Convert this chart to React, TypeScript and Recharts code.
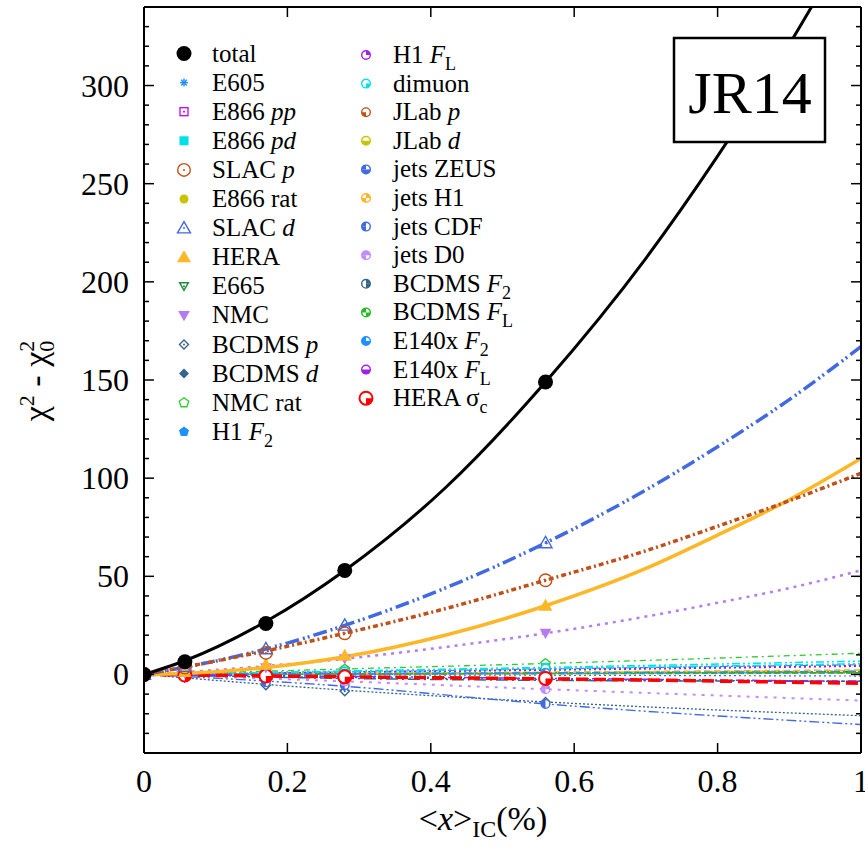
import React from "react";
import { ComposedChart, Line, Scatter, XAxis, YAxis } from "recharts";

const FONT = "Liberation Serif, Times New Roman, Times, serif";

// x positions of the fitted points and of the samples along each fit curve
const xPts = [0, 0.057, 0.17, 0.28, 0.56];
const xFitBig = [0, 0.057, 0.17, 0.28, 0.42, 0.56, 0.7, 0.8, 0.9, 1];
const xFitSmall = [0, 0.28, 0.56, 1];

const xTicks = [0, 0.2, 0.4, 0.6, 0.8, 1];
const xTickLabels = ["0", "0.2", "0.4", "0.6", "0.8", "1"];

const totalPts = [0, 6.5, 26, 53, 149];
const totalFit = [0, 7, 27, 53, 95, 149, 212, 264, 321, 384];
const slacDPts = [0, 4, 13, 25, 67];
const slacDFit = [0, 3.7, 13, 25, 44, 67, 94, 116, 140, 167];
const slacPPts = [0, 3.5, 11, 21, 48];
const slacPFit = [0, 3.8, 12, 21, 33.5, 48, 63, 75.5, 88.5, 102.5];
const heraPts = [0, 1.2, 5, 9.5, 35];
const heraFit = [0, 0.5, 3.5, 9, 20, 35, 54, 71, 89, 110];
const nmcPts = [0, 0.8, 3.5, 8, 21];
const nmcFit = [0, 1.2, 4.3, 8, 14, 21, 29.5, 36.5, 44, 53];

const e605Pts = [0, 0.2, 0.8, 1.3, 2.8];
const e605Fit = [0, 1.3, 2.8, 5];
const e866ppPts = [0, 0.2, 0.6, 1, 2.2];
const e866ppFit = [0, 1, 2.2, 4.2];
const e866pdPts = [0, 0.3, 1, 1.8, 3.6];
const e866pdFit = [0, 1.8, 3.6, 6.8];
const e866ratPts = [0, 0.1, 0.4, 0.6, 1.2];
const e866ratFit = [0, 0.6, 1.2, 2.3];
const e665Pts = [0, 0, 0.2, 0.4, 0.8];
const e665Fit = [0, 0.4, 0.8, 1.5];
const bcdmsPPts = [0, -1.5, -5.5, -8.5, -14];
const bcdmsPFit = [0, -8, -14, -21];
const bcdmsDPts = [0, -0.3, -1, -1.5, -2.5];
const bcdmsDFit = [0, -1.5, -2.5, -3.5];
const nmcRatPts = [0, 0.5, 1.5, 2.6, 5.5];
const nmcRatFit = [0, 2.8, 5.6, 10.8];
const h1F2Pts = [0, 0, 0.1, 0.2, 0.5];
const h1F2Fit = [0, 0.2, 0.5, 1];
const h1FLPts = [0, 0.2, 0.7, 1.2, 2.5];
const h1FLFit = [0, 1.2, 2.5, 4.5];
const dimuonPts = [0, 0.3, 0.9, 1.5, 3];
const dimuonFit = [0, 1.5, 3, 5.5];
const jlabPPts = [0, 0.1, 0.2, 0.3, 0.6];
const jlabPFit = [0, 0.3, 0.6, 1];
const jlabDPts = [0, 0, 0.1, 0.2, 0.3];
const jlabDFit = [0, 0.2, 0.3, 0.6];
const zeusPts = [0, 0, -0.1, -0.2, -0.4];
const zeusFit = [0, -0.2, -0.4, -0.8];
const jetsH1Pts = [0, 0.1, 0.3, 0.5, 1];
const jetsH1Fit = [0, 0.5, 1, 2];
const cdfPts = [0, -1.2, -4, -5.5, -15];
const cdfFit = [0, -6, -15, -25.5];
const d0Pts = [0, -0.5, -1.8, -3.5, -7.5];
const d0Fit = [0, -3.5, -7.5, -13.3];
const bcdmsF2Pts = [0, -0.5, -1.5, -2, -3];
const bcdmsF2Fit = [0, -2, -3, -3.5];
const bcdmsFLPts = [0, 0, 0.1, 0.2, 0.4];
const bcdmsFLFit = [0, 0.2, 0.4, 0.8];
const e140F2Pts = [0, 0, 0.2, 0.4, 0.8];
const e140F2Fit = [0, 0.4, 0.8, 1.5];
const e140FLPts = [0, -0.2, -0.6, -1, -2];
const e140FLFit = [0, -1, -2, -3.5];
const heraScPts = [0, -0.3, -0.8, -1.2, -2];
const heraScFit = [0, -1.2, -2.2, -4.5];

type Part = [string, ("i" | "sub")?];
type Series = {
  label: Part[];
  color: string;
  kind: string;
  q?: number[];
  pts: number[];
  fit: number[];
  fx: number[];
  dash?: string;
  w: number;
};

const blue = "#1E90FF";
const royal = "#4169E1";
const purple = "#A020F0";
const cyan = "#00E0EA";
const rust = "#C0501A";
const olive = "#C6C600";
const orange = "#FFB627";
const slate = "#36648B";

const series: Series[] = [
  { label: [["total"]], color: "#000", kind: "big", pts: totalPts, fit: totalFit, fx: xFitBig, w: 3 },
  { label: [["E605"]], color: blue, kind: "star", pts: e605Pts, fit: e605Fit, fx: xFitSmall, dash: "8 3 2 3", w: 1.2 },
  { label: [["E866 "], ["pp", "i"]], color: "#C000FF", kind: "sqO", pts: e866ppPts, fit: e866ppFit, fx: xFitSmall, dash: "2 3", w: 1.5 },
  { label: [["E866 "], ["pd", "i"]], color: cyan, kind: "sqF", pts: e866pdPts, fit: e866pdFit, fx: xFitSmall, dash: "8 3 2 3 2 3", w: 1.5 },
  { label: [["SLAC "], ["p", "i"]], color: rust, kind: "ciO", pts: slacPPts, fit: slacPFit, fx: xFitBig, dash: "5 3 2 3", w: 3.5 },
  { label: [["E866 rat"]], color: olive, kind: "ciF", pts: e866ratPts, fit: e866ratFit, fx: xFitSmall, dash: "6 4", w: 1.5 },
  { label: [["SLAC "], ["d", "i"]], color: royal, kind: "trO", pts: slacDPts, fit: slacDFit, fx: xFitBig, dash: "14 4 2 3 2 4", w: 3.5 },
  { label: [["HERA"]], color: orange, kind: "trF", pts: heraPts, fit: heraFit, fx: xFitBig, w: 3.5 },
  { label: [["E665"]], color: "#228B3C", kind: "tdO", pts: e665Pts, fit: e665Fit, fx: xFitSmall, dash: "10 4", w: 1.2 },
  { label: [["NMC"]], color: "#B47CF2", kind: "tdF", pts: nmcPts, fit: nmcFit, fx: xFitBig, dash: "3 5", w: 2.5 },
  { label: [["BCDMS "], ["p", "i"]], color: slate, kind: "diO", pts: bcdmsPPts, fit: bcdmsPFit, fx: xFitSmall, dash: "2 2", w: 1.3 },
  { label: [["BCDMS "], ["d", "i"]], color: slate, kind: "diF", pts: bcdmsDPts, fit: bcdmsDFit, fx: xFitSmall, dash: "10 3 2 3", w: 1.3 },
  { label: [["NMC rat"]], color: "#32C832", kind: "peO", pts: nmcRatPts, fit: nmcRatFit, fx: xFitSmall, dash: "6 4 2 4", w: 1.3 },
  { label: [["H1 "], ["F", "i"], ["2", "sub"]], color: blue, kind: "peF", pts: h1F2Pts, fit: h1F2Fit, fx: xFitSmall, w: 1.2 },
  { label: [["H1 "], ["F", "i"], ["L", "sub"]], color: purple, kind: "pie", q: [0], pts: h1FLPts, fit: h1FLFit, fx: xFitSmall, dash: "2 3", w: 1.5 },
  { label: [["dimuon"]], color: cyan, kind: "pie", q: [1], pts: dimuonPts, fit: dimuonFit, fx: xFitSmall, dash: "8 3 2 3 2 3", w: 1.5 },
  { label: [["JLab "], ["p", "i"]], color: rust, kind: "pie", q: [2], pts: jlabPPts, fit: jlabPFit, fx: xFitSmall, dash: "6 3", w: 1.2 },
  { label: [["JLab "], ["d", "i"]], color: olive, kind: "pie", q: [1, 2], pts: jlabDPts, fit: jlabDFit, fx: xFitSmall, dash: "8 3 2 3", w: 1.2 },
  { label: [["jets ZEUS"]], color: royal, kind: "pie", q: [1, 2, 3], pts: zeusPts, fit: zeusFit, fx: xFitSmall, dash: "2 3", w: 1.2 },
  { label: [["jets H1"]], color: orange, kind: "pie", q: [0, 2], pts: jetsH1Pts, fit: jetsH1Fit, fx: xFitSmall, dash: "7 4", w: 1.5 },
  { label: [["jets CDF"]], color: royal, kind: "pie", q: [2, 3], pts: cdfPts, fit: cdfFit, fx: xFitSmall, dash: "10 3 2 3 2 3", w: 1.4 },
  { label: [["jets D0"]], color: "#C08CFF", kind: "pie", q: [0, 2, 3], pts: d0Pts, fit: d0Fit, fx: xFitSmall, dash: "3 6", w: 2 },
  { label: [["BCDMS "], ["F", "i"], ["2", "sub"]], color: slate, kind: "pie", q: [0, 1], pts: bcdmsF2Pts, fit: bcdmsF2Fit, fx: xFitSmall, dash: "12 4 2 4", w: 1.5 },
  { label: [["BCDMS "], ["F", "i"], ["L", "sub"]], color: "#22BB22", kind: "pie", q: [1, 3], pts: bcdmsFLPts, fit: bcdmsFLFit, fx: xFitSmall, dash: "6 3", w: 1.5 },
  { label: [["E140x "], ["F", "i"], ["2", "sub"]], color: blue, kind: "pie", q: [1, 2, 3], pts: e140F2Pts, fit: e140F2Fit, fx: xFitSmall, dash: "8 3 2 3", w: 1.5 },
  { label: [["E140x "], ["F", "i"], ["L", "sub"]], color: purple, kind: "pie", q: [1, 2], pts: e140FLPts, fit: e140FLFit, fx: xFitSmall, dash: "8 3 2 3", w: 1.5 },
  { label: [["HERA σ"], ["c", "sub"]], color: "#FF0000", kind: "pieBig", q: [1], pts: heraScPts, fit: heraScFit, fx: xFitSmall, dash: "12 6", w: 3.5 },
];

const isBig = (s: Series) => s.fx === xFitBig;

const yTicks: number[] = [];
for (let v = -30; v <= 330; v += 10) yTicks.push(v);

function poly(cx: number, cy: number, r: number, n: number, start: number) {
  const p: string[] = [];
  for (let i = 0; i < n; i++) {
    const a = ((start + (360 / n) * i) * Math.PI) / 180;
    p.push(`${cx + r * Math.cos(a)},${cy + r * Math.sin(a)}`);
  }
  return p.join(" ");
}

function wedge(cx: number, cy: number, r: number, k: number) {
  const a0 = ((-90 + 90 * k) * Math.PI) / 180;
  const a1 = a0 + Math.PI / 2;
  return `M${cx},${cy} L${cx + r * Math.cos(a0)},${cy + r * Math.sin(a0)} A${r},${r} 0 0 1 ${cx + r * Math.cos(a1)},${cy + r * Math.sin(a1)} Z`;
}

function Marker({ cx, cy, s }: { cx: number; cy: number; s: Series }) {
  const c = s.color;
  const dot = <circle cx={cx} cy={cy} r={1} fill={c} />;
  switch (s.kind) {
    case "big":
      return <circle cx={cx} cy={cy} r={7.5} fill={c} />;
    case "star": {
      const r = 4;
      const d = r * 0.7;
      return (
        <g stroke={c} strokeWidth={1.4}>
          <line x1={cx - r} y1={cy} x2={cx + r} y2={cy} />
          <line x1={cx} y1={cy - r} x2={cx} y2={cy + r} />
          <line x1={cx - d} y1={cy - d} x2={cx + d} y2={cy + d} />
          <line x1={cx - d} y1={cy + d} x2={cx + d} y2={cy - d} />
        </g>
      );
    }
    case "sqO":
      return (
        <g>
          <rect x={cx - 4} y={cy - 4} width={8} height={8} fill="none" stroke={c} strokeWidth={1.3} />
          {dot}
        </g>
      );
    case "sqF":
      return <rect x={cx - 4.5} y={cy - 4.5} width={9} height={9} fill={c} />;
    case "ciO":
      return (
        <g>
          <circle cx={cx} cy={cy} r={6.3} fill="none" stroke={c} strokeWidth={1.4} />
          {dot}
        </g>
      );
    case "ciF":
      return <circle cx={cx} cy={cy} r={4.5} fill={c} />;
    case "trO":
      return (
        <g>
          <polygon points={poly(cx, cy + 1, 7.5, 3, -90)} fill="none" stroke={c} strokeWidth={1.4} />
          {dot}
        </g>
      );
    case "trF":
      return <polygon points={poly(cx, cy + 1, 8, 3, -90)} fill={c} />;
    case "tdO":
      return (
        <g>
          <polygon points={poly(cx, cy - 1, 5, 3, 90)} fill="none" stroke={c} strokeWidth={1.5} />
          {dot}
        </g>
      );
    case "tdF":
      return <polygon points={poly(cx, cy - 1, 6.8, 3, 90)} fill={c} />;
    case "diO":
      return (
        <g>
          <polygon points={poly(cx, cy, 4.5, 4, 0)} fill="none" stroke={c} strokeWidth={1.4} />
          {dot}
        </g>
      );
    case "diF":
      return <polygon points={poly(cx, cy, 5, 4, 0)} fill={c} />;
    case "peO":
      return <polygon points={poly(cx, cy, 5, 5, -90)} fill="none" stroke={c} strokeWidth={1.3} />;
    case "peF":
      return <polygon points={poly(cx, cy, 5.3, 5, -90)} fill={c} />;
    default: {
      const big = s.kind === "pieBig";
      const r = big ? 6.5 : 4.3;
      return (
        <g>
          <circle cx={cx} cy={cy} r={r} fill="#fff" stroke={c} strokeWidth={big ? 2 : 1.4} />
          {(s.q || []).map((k) => (
            <path key={k} d={wedge(cx, cy, r, k)} fill={c} />
          ))}
        </g>
      );
    }
  }
}

function LabelText({ x, y, parts }: { x: number; y: number; parts: Part[] }) {
  return (
    <text x={x} y={y} fontFamily={FONT} fontSize={25} fill="#000">
      {parts.map(([t, st], i) =>
        st === "sub" ? (
          <tspan key={i} dy={7} fontSize={18}>
            {t}
          </tspan>
        ) : (
          <tspan key={i} fontStyle={st === "i" ? "italic" : "normal"}>
            {t}
          </tspan>
        )
      )}
    </text>
  );
}

function YTick(props: any) {
  const { x, y, payload, side } = props;
  const v = payload.value;
  const major = v % 50 === 0;
  const len = major ? 10 : 5;
  const dir = side === "right" ? -1 : 1;
  return (
    <g>
      <line x1={x} y1={y} x2={x + dir * len} y2={y} stroke="#000" strokeWidth={1.5} />
      {major && side !== "right" ? (
        <text x={x - 15} y={y + 11} textAnchor="end" fontFamily={FONT} fontSize={32} fill="#000">
          {v}
        </text>
      ) : null}
    </g>
  );
}

function XTick(props: any) {
  const { x, y, payload, index, side } = props;
  const dir = side === "top" ? 1 : -1;
  return (
    <g>
      <line x1={x} y1={y} x2={x} y2={y + dir * 10} stroke="#000" strokeWidth={1.5} />
      {side !== "top" ? (
        <text x={x} y={y + 39} textAnchor="middle" fontFamily={FONT} fontSize={32} fill="#000">
          {xTickLabels[index] ?? payload.value}
        </text>
      ) : null}
    </g>
  );
}

export default function App() {
  const frame = { stroke: "#000", strokeWidth: 2 };
  const drawOrder = [...series.filter((s) => !isBig(s)), ...series.filter(isBig).reverse()];
  return (
    <div style={{ position: "absolute", left: 0, top: 0, width: 865, height: 847, background: "#fff" }}>
      <ComposedChart width={865} height={847} margin={{ top: 5, right: 2, bottom: 54, left: 84 }}>
        <XAxis
          type="number"
          dataKey="x"
          domain={[0, 1]}
          ticks={xTicks}
          interval={0}
          allowDataOverflow
          height={40}
          axisLine={frame}
          tickLine={false}
          tickSize={0}
          tickMargin={0}
          tick={(p: any) => <XTick {...p} side="bottom" />}
        />
        <XAxis
          xAxisId="top"
          orientation="top"
          type="number"
          dataKey="x"
          domain={[0, 1]}
          ticks={xTicks}
          interval={0}
          allowDataOverflow
          height={2}
          axisLine={frame}
          tickLine={false}
          tickSize={0}
          tickMargin={0}
          tick={(p: any) => <XTick {...p} side="top" />}
        />
        <YAxis
          type="number"
          dataKey="y"
          domain={[-40, 340]}
          ticks={yTicks}
          interval={0}
          allowDataOverflow
          width={60}
          axisLine={frame}
          tickLine={false}
          tickSize={0}
          tickMargin={0}
          tick={(p: any) => <YTick {...p} side="left" />}
        />
        <YAxis
          yAxisId="right"
          orientation="right"
          type="number"
          dataKey="y"
          domain={[-40, 340]}
          ticks={yTicks}
          interval={0}
          allowDataOverflow
          width={2}
          axisLine={frame}
          tickLine={false}
          tickSize={0}
          tickMargin={0}
          tick={(p: any) => <YTick {...p} side="right" />}
        />
        {drawOrder.map((s, i) => (
          <Line
            key={"l" + i}
            data={s.fx.map((x, j) => ({ x, y: s.fit[j] }))}
            dataKey="y"
            type="monotone"
            stroke={s.color}
            strokeWidth={s.w}
            strokeDasharray={s.dash}
            dot={false}
            activeDot={false}
            isAnimationActive={false}
          />
        ))}
        {drawOrder.map((s, i) => (
          <Scatter
            key={"s" + i}
            data={xPts.map((x, j) => ({ x, y: s.pts[j] }))}
            dataKey="y"
            isAnimationActive={false}
            shape={(p: any) => <Marker cx={p.cx} cy={p.cy} s={s} />}
          />
        ))}
      </ComposedChart>
      <svg
        width={865}
        height={847}
        style={{ position: "absolute", left: 0, top: 0, pointerEvents: "none" }}
      >
        {series.map((s, i) => {
          const col2 = i >= 14;
          const row = col2 ? i - 14 : i;
          const my = col2 ? 55 + row * 28.6 : 53.5 + row * 29.1;
          const mx = col2 ? 366 : 184;
          const tx = col2 ? 393 : 212;
          return (
            <g key={"lg" + i}>
              <Marker cx={mx} cy={my} s={s} />
              <LabelText x={tx} y={my + 8} parts={s.label} />
            </g>
          );
        })}
        <rect x={674} y={38} width={151} height={104} fill="#fff" stroke="#000" strokeWidth={2.5} />
        <text x={750} y={113} textAnchor="middle" fontFamily={FONT} fontSize={60} fill="#000">
          JR14
        </text>
        <text x={483} y={830} textAnchor="middle" fontFamily={FONT} fontSize={34} fill="#000">
          <tspan>&lt;</tspan>
          <tspan fontStyle="italic">x</tspan>
          <tspan>&gt;</tspan>
          <tspan fontSize={24} dy={7}>
            IC
          </tspan>
          <tspan dy={-7}>(%)</tspan>
        </text>
        <g transform="translate(47,381) rotate(-90)">
          <text textAnchor="middle" fontFamily={FONT} fontSize={34} fill="#000">
            χ
            <tspan fontSize={22} dy={-13}>
              2
            </tspan>
            <tspan dy={13}> - χ</tspan>
            <tspan fontSize={22} dy={7}>
              0
            </tspan>
            <tspan fontSize={22} dx={-11} dy={-20}>
              2
            </tspan>
          </text>
        </g>
      </svg>
    </div>
  );
}
